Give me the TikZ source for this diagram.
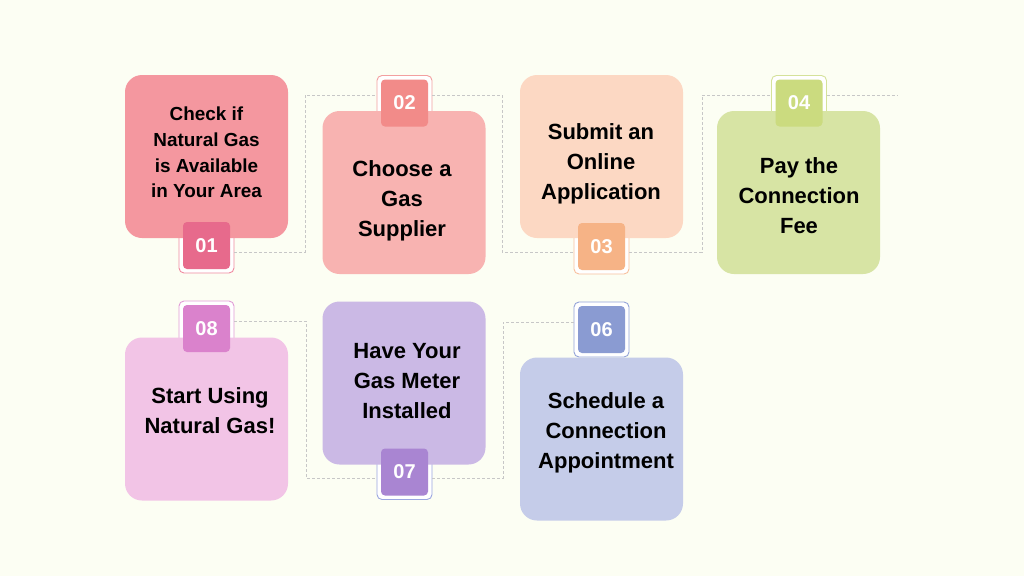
\documentclass[tikz,border=0pt]{standalone}
\usepackage{fontspec}
\setmainfont{Liberation Sans}
\begin{document}
\begin{tikzpicture}[x=1pt,y=-1pt,
  card/.style={draw=none,rounded corners=17pt,minimum width=163pt,minimum height=163pt,inner sep=0pt},
  frame/.style={fill=white,draw=#1,line width=0.9pt,rounded corners=5pt,minimum width=55pt,minimum height=55pt,inner sep=0pt},
  badge/.style={fill=#1,rounded corners=4pt,minimum width=47pt,minimum height=47pt,inner sep=0pt,text=white,font=\bfseries\fontsize{20}{20}\selectfont},
  label/.style={align=center,font=\bfseries\fontsize{22}{30}\selectfont,inner sep=0pt},
  conn/.style={draw=black!22,line width=0.8pt,dash pattern=on 3pt off 2pt}]
\definecolor{bg}{HTML}{FCFEF3}
\definecolor{c1}{HTML}{F4979F}\definecolor{d1}{HTML}{E76A8C}\definecolor{e1}{HTML}{F08AA0}
\definecolor{c2}{HTML}{F8B3B1}\definecolor{d2}{HTML}{F28B89}\definecolor{e2}{HTML}{F3A0A0}
\definecolor{c3}{HTML}{FCD8C3}\definecolor{d3}{HTML}{F6B386}\definecolor{e3}{HTML}{F8C09E}
\definecolor{c4}{HTML}{D7E4A4}\definecolor{d4}{HTML}{CBDB7F}\definecolor{e4}{HTML}{D5E29A}
\definecolor{c6}{HTML}{C5CCE9}\definecolor{d6}{HTML}{8A9BD2}\definecolor{e6}{HTML}{93A3D8}
\definecolor{c7}{HTML}{CBB9E5}\definecolor{d7}{HTML}{A985D2}\definecolor{e7}{HTML}{9AA6E0}
\definecolor{c8}{HTML}{F2C4E6}\definecolor{d8}{HTML}{DA82CC}\definecolor{e8}{HTML}{E19BD6}
\fill[bg] (0,0) rectangle (1024,576);
\useasboundingbox (0,0) rectangle (1024,576);
% frames
\node[frame=e1] (f1) at (206.5,245.5) {};
\node[frame=e2] (f2) at (404.5,103) {};
\node[frame=e3] (f3) at (601.5,246.5) {};
\node[frame=e4] (f4) at (799,103) {};
\node[frame=e8] (f8) at (206.5,328.5) {};
\node[frame=e7] (f7) at (404.5,472) {};
\node[frame=e6] (f6) at (601.5,329.5) {};
% connectors
\coordinate (r1) at (305.5,252);
\coordinate (t1) at (305.5,95);
\coordinate (t2) at (502,95);
\coordinate (r2) at (502,252);
\coordinate (r3) at (702,252);
\coordinate (t3) at (702,95);
\coordinate (end4) at (898,95);
\coordinate (u8) at (306,321);
\coordinate (l8) at (306,478);
\coordinate (l7) at (503,478);
\coordinate (u7) at (503,322);
\draw[conn] (f1.east |- r1) -- (r1) -- (t1) -- (t1 -| f2.west);
\draw[conn] (f2.east |- t2) -- (t2) -- (r2) -- (r2 -| f3.west);
\draw[conn] (f3.east |- r3) -- (r3) -- (t3) -- (t3 -| f4.west);
\draw[conn] (f4.east |- end4) -- (end4);
\draw[conn] (f8.east |- u8) -- (u8) -- (l8) -- (l8 -| f7.west);
\draw[conn] (f7.east |- l7) -- (l7) -- (u7) -- (u7 -| f6.west);
% cards
\node[card,fill=c1] (b1) at (206.5,156.5) {};
\node[card,fill=c2] (b2) at (404,192.5) {};
\node[card,fill=c3] (b3) at (601.5,156.5) {};
\node[card,fill=c4] (b4) at (798.5,192.5) {};
\node[card,fill=c8] (b8) at (206.5,419) {};
\node[card,fill=c7] (b7) at (404,383) {};
\node[card,fill=c6] (b6) at (601.5,439) {};
% badges
\node[badge=d1] (n1) at (f1) {01};
\node[badge=d2] (n2) at (f2) {02};
\node[badge=d3] (n3) at (f3) {03};
\node[badge=d4] (n4) at (f4) {04};
\node[badge=d8] (n8) at (f8) {08};
\node[badge=d7] (n7) at (f7) {07};
\node[badge=d6] (n6) at (f6) {06};
% labels
\node[label,font=\bfseries\fontsize{18.9}{25.8}\selectfont] (t1l) at (206.5,152.5) {Check if\\Natural Gas\\is Available\\in Your Area};
\node[label] (t2l) at (402,200.5) {Choose a\\Gas\\Supplier};
\node[label] (t3l) at (601,163.5) {Submit an\\Online\\Application};
\node[label] (t4l) at (799,196) {Pay the\\Connection\\Fee};
\node[label] (t8l) at (210,411) {Start Using\\Natural Gas!};
\node[label] (t7l) at (407,381) {Have Your\\Gas Meter\\Installed};
\node[label] (t6l) at (606,432.5) {Schedule a\\Connection\\Appointment};
\end{tikzpicture}
\end{document}
